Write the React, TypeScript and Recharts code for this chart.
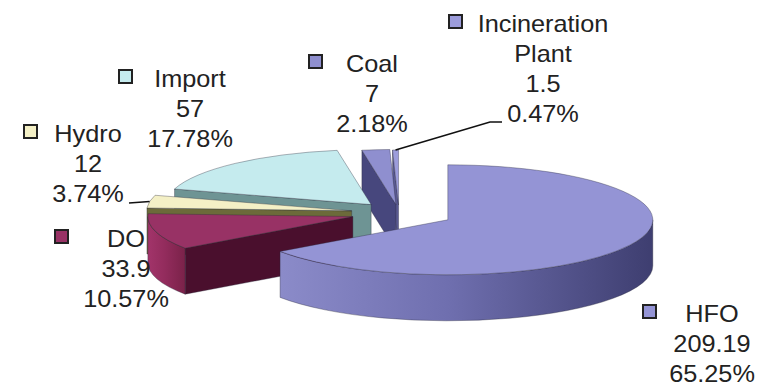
import { PieChart, Pie } from 'recharts';

// generation capacity by source (clockwise from 12 o'clock, as in the original)
const categories = ['HFO', 'DO', 'Hydro', 'Import', 'Coal', 'Incineration Plant'];
const capacities = [209.19, 33.9, 12, 57, 7, 1.5];

// how far each slice is pulled out of the pie (px along its mid angle)
const explode: Record<string, number> = {
  HFO: 55,
  DO: 48,
  Hydro: 48,
  Import: 42,
  Coal: 32,
  'Incineration Plant': 30,
};

const sliceStyle: Record<string, { top: string; cut: string; side: [string, string, string] }> = {
  HFO: { top: '#9494d5', cut: '#4d4d85', side: ['#8b8bc9', '#6f6faf', '#3e3e70'] },
  DO: { top: '#983265', cut: '#4a0f2d', side: ['#a2346a', '#932c5d', '#7a2249'] },
  Hydro: { top: '#f4f0c6', cut: '#6c6a3a', side: ['#c9c595', '#b9b585', '#9a9665'] },
  Import: { top: '#c5ebee', cut: '#6e9494', side: ['#9cc4c6', '#8ab2b4', '#6e9494'] },
  Coal: { top: '#8f8fcf', cut: '#47477d', side: ['#7a7ab8', '#6a6aa6', '#4d4d85'] },
  'Incineration Plant': { top: '#9c9cdb', cut: '#5a5a92', side: ['#8080c0', '#7070b0', '#55558c'] },
};

// where Excel put each data label (centre x, first baseline, legend key x, leader end points)
const labelLayout: Record<string, { x: number; y: number; keyX: number; leader?: number[][] }> = {
  HFO: { x: 712, y: 322, keyX: 643 },
  DO: { x: 126, y: 247, keyX: 55 },
  Hydro: { x: 88, y: 142, keyX: 24, leader: [[129, 203]] },
  Import: { x: 190, y: 87, keyX: 119 },
  Coal: { x: 372, y: 72, keyX: 309 },
  'Incineration Plant': { x: 543, y: 32, keyX: 449, leader: [[490, 122], [502, 122]] },
};

const TILT = 55 / 205; // vertical squash of the pie disc
const DEPTH = 46;
const RAD = Math.PI / 180;
const FONT = "'Liberation Sans', Arial, sans-serif";

const pieData = categories.map((name, i) => ({ name, value: capacities[i] })).reverse();

function sliceCenter(cx: number, cy: number, midAngle: number, name: string) {
  const e = explode[name] ?? 0;
  return [cx + e * Math.cos(midAngle * RAD), cy - TILT * e * Math.sin(midAngle * RAD)];
}

function Slice3D(props: any) {
  const { cx, cy, outerRadius: r, startAngle, endAngle, midAngle } = props;
  const name: string = props.payload?.name ?? props.name;
  const st = sliceStyle[name];
  const [ox, oy] = sliceCenter(cx, cy, midAngle, name);
  const ry = TILT * r;
  const pt = (a: number, dz = 0) =>
    `${ox + r * Math.cos(a * RAD)},${oy - ry * Math.sin(a * RAD) + dz}`;

  const large = endAngle - startAngle > 180 ? 1 : 0;
  const top = `M${ox},${oy} L${pt(startAngle)} A${r},${ry} 0 ${large} 0 ${pt(endAngle)} Z`;

  // outer wall, only the part on the front half of the disc
  const sides: string[] = [];
  for (const n of [-1, 0, 1]) {
    const lo = Math.max(startAngle, 180 + 360 * n);
    const hi = Math.min(endAngle, 360 + 360 * n);
    if (hi > lo) {
      sides.push(
        `M${pt(lo)} A${r},${ry} 0 0 0 ${pt(hi)} L${pt(hi, DEPTH)} A${r},${ry} 0 0 1 ${pt(lo, DEPTH)} Z`
      );
    }
  }

  // radial cut faces that look toward the viewer
  const cuts: string[] = [];
  const cutFace = (a: number) =>
    `M${ox},${oy} L${pt(a)} L${pt(a, DEPTH)} L${ox},${oy + DEPTH} Z`;
  if (Math.cos(startAngle * RAD) > 0.001) cuts.push(cutFace(startAngle));
  if (Math.cos(endAngle * RAD) < -0.001) cuts.push(cutFace(endAngle));

  const gid = `side-${name.replace(/\s/g, '')}`;
  return (
    <g>
      <defs>
        <linearGradient id={gid} x1="0" y1="0" x2="1" y2="0">
          <stop offset="0%" stopColor={st.side[0]} />
          <stop offset="45%" stopColor={st.side[1]} />
          <stop offset="100%" stopColor={st.side[2]} />
        </linearGradient>
      </defs>
      {cuts.map((d, i) => (
        <path key={`c${i}`} d={d} fill={st.cut} stroke="#2a2a3a" strokeWidth={0.6} strokeOpacity={0.6} />
      ))}
      {sides.map((d, i) => (
        <path key={`s${i}`} d={d} fill={`url(#${gid})`} stroke="#2a2a3a" strokeWidth={0.6} strokeOpacity={0.6} />
      ))}
      <path d={top} fill={st.top} stroke="#2a2a3a" strokeWidth={0.6} strokeOpacity={0.6} />
    </g>
  );
}

function SliceLabel(props: any) {
  const { cx, cy, midAngle, outerRadius: r, value, percent } = props;
  const name: string = props.payload?.name ?? props.name;
  const lay = labelLayout[name];
  const st = sliceStyle[name];
  const lines = [...name.split(' '), String(value), `${(percent * 100).toFixed(2)}%`];

  let leader = null;
  if (lay.leader) {
    const [ox, oy] = sliceCenter(cx, cy, midAngle, name);
    const sx = ox + r * Math.cos(midAngle * RAD);
    const sy = oy - TILT * r * Math.sin(midAngle * RAD);
    const pts = [[sx, sy], ...lay.leader].map((p) => p.join(',')).join(' ');
    leader = <polyline points={pts} fill="none" stroke="#111" strokeWidth={1.6} />;
  }

  return (
    <g>
      {leader}
      <rect x={lay.keyX} y={lay.y - 17} width={13} height={13} fill={st.top} stroke="#222" strokeWidth={2} />
      {lines.map((t, i) => (
        <text
          key={i}
          x={0}
          y={0}
          transform={`translate(${lay.x},${lay.y + i * 30}) scale(1.1,1)`}
          textAnchor="middle"
          fontFamily={FONT}
          fontSize={23}
          fill="#222"
        >
          {t}
        </text>
      ))}
    </g>
  );
}

export default function App() {
  return (
    <div style={{ position: 'absolute', left: 0, top: 0, width: 776, height: 386, background: '#fff' }}>
      <PieChart width={776} height={386} margin={{ top: 0, right: 0, bottom: 0, left: 0 }}>
        <Pie
          data={pieData}
          dataKey="value"
          nameKey="name"
          cx={399}
          cy={213}
          outerRadius={205}
          startAngle={90}
          endAngle={450}
          stroke="none"
          shape={Slice3D}
          label={SliceLabel}
          labelLine={false}
          isAnimationActive={false}
        />
      </PieChart>
    </div>
  );
}
